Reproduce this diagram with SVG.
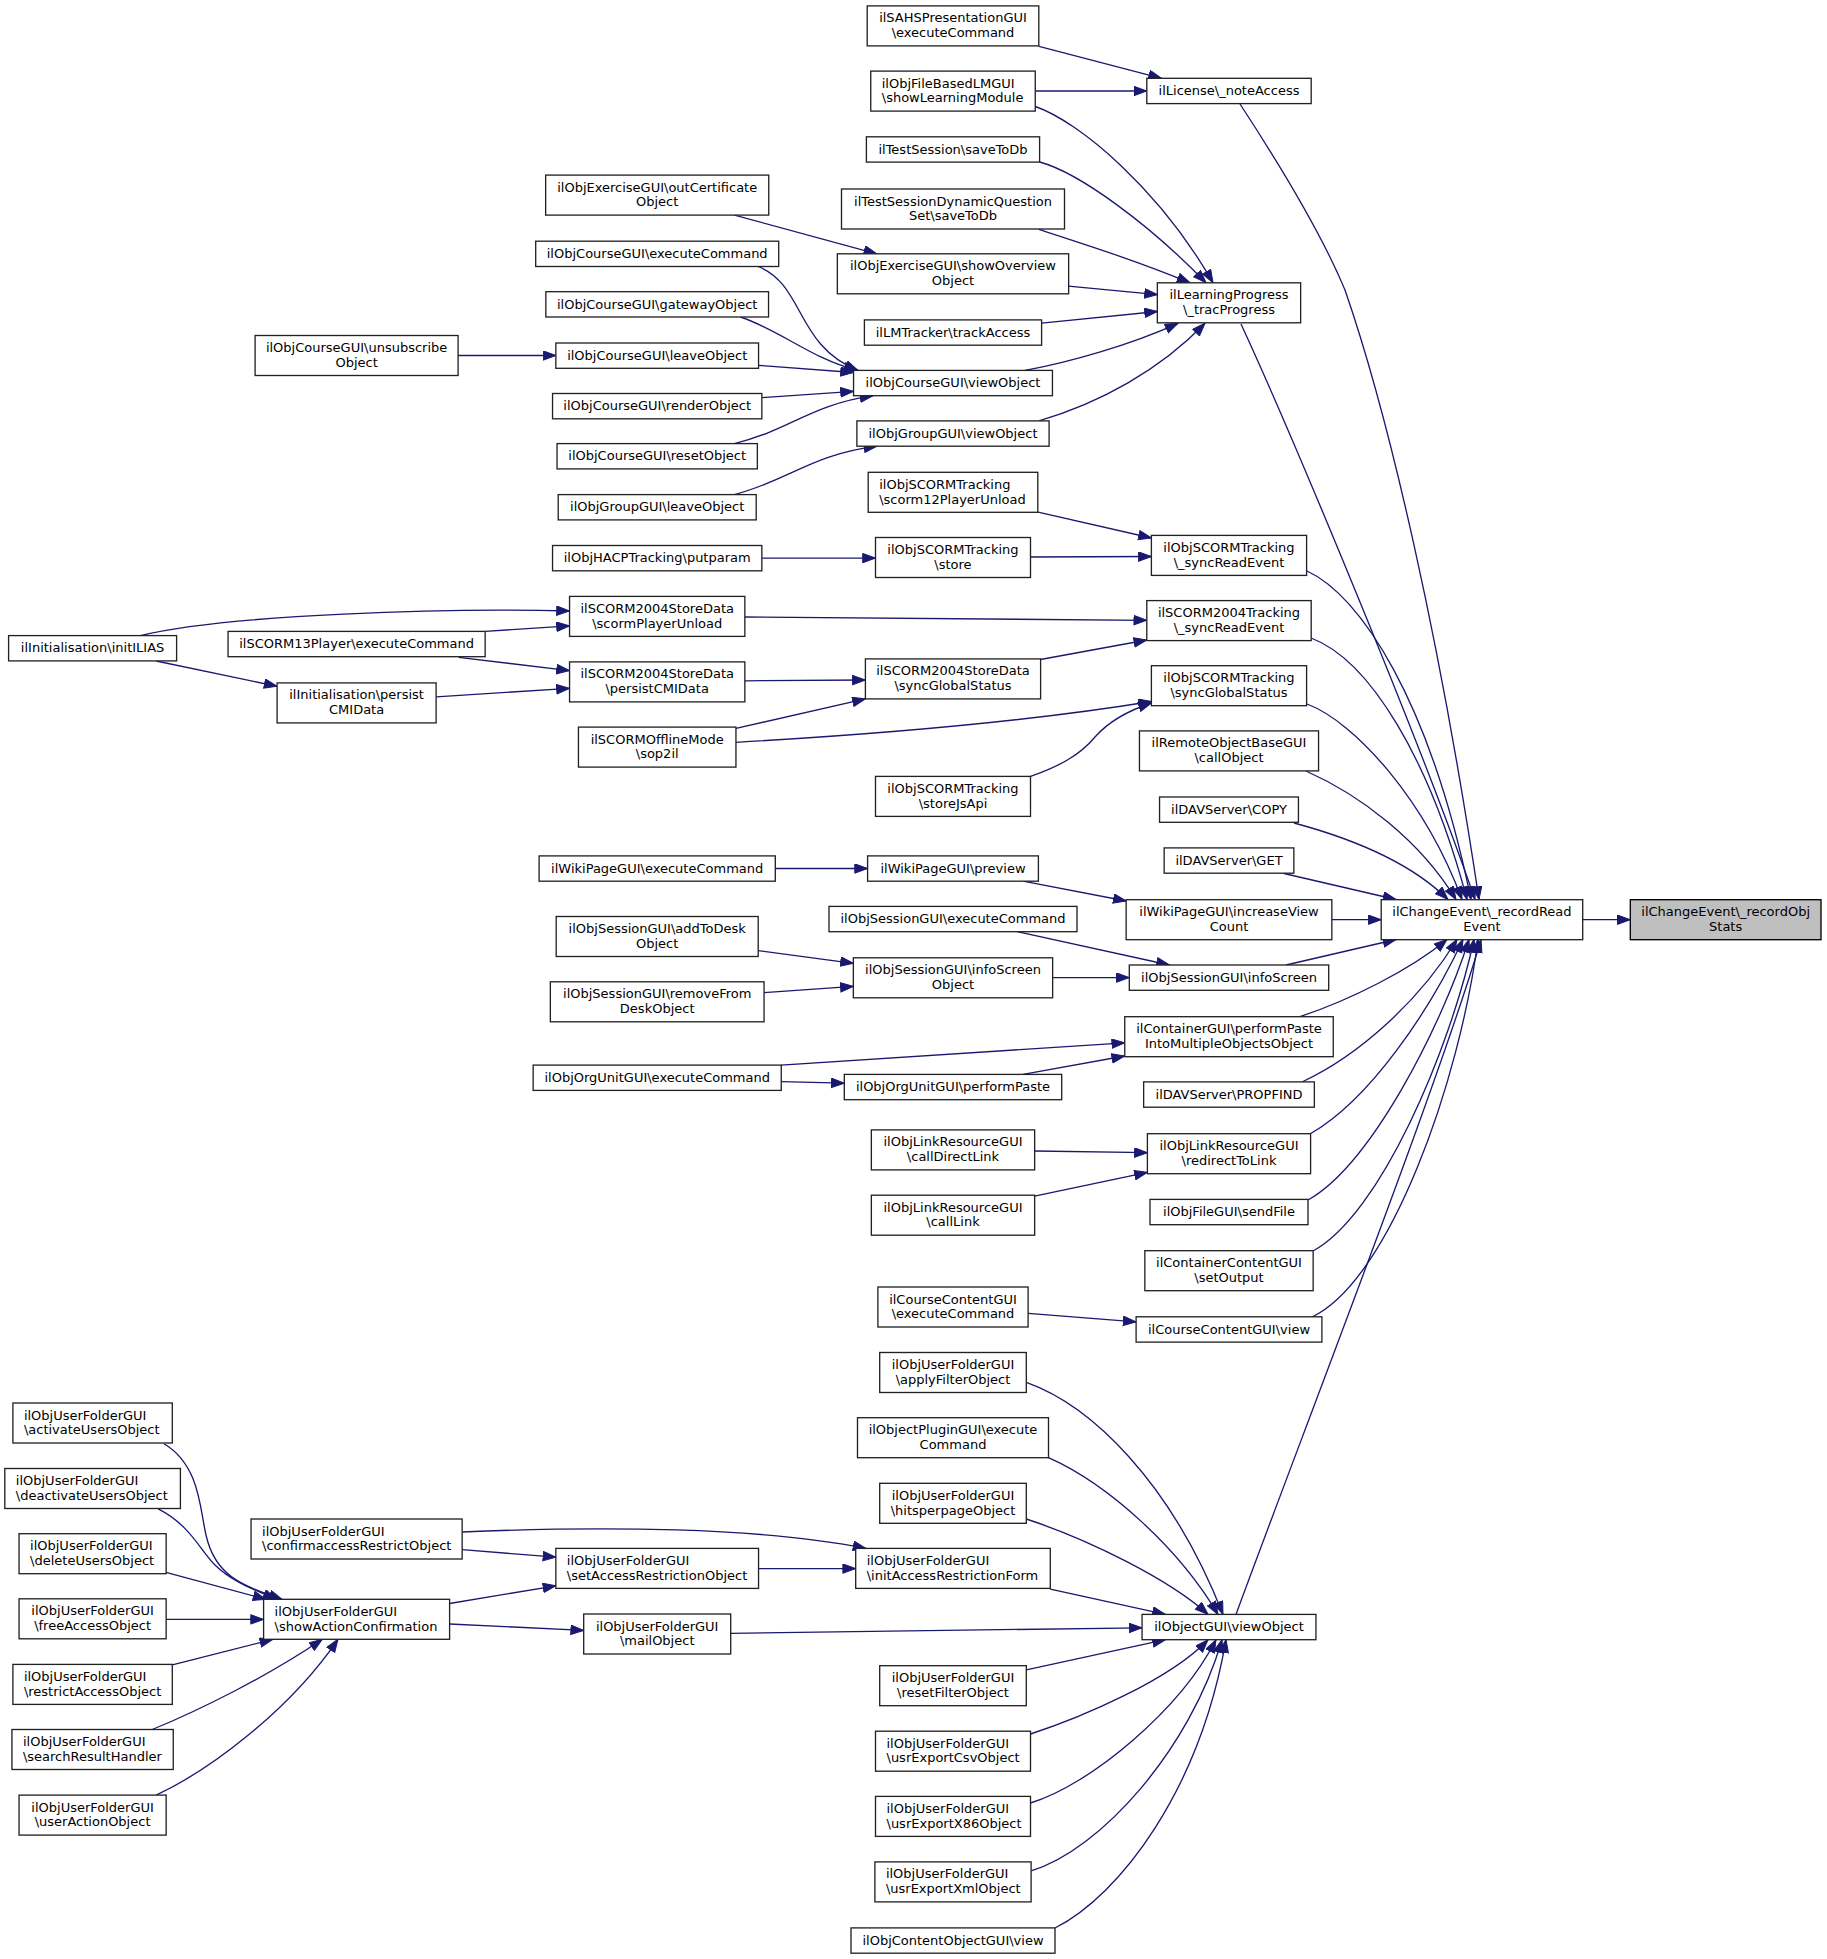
<svg xmlns="http://www.w3.org/2000/svg" width="1827" height="1959" viewBox="0 0 1827 1959">
<style>
.n rect{fill:#ffffff;stroke:#222222;stroke-width:1.33}
.f rect{fill:#bfbfbf;stroke:#000000;stroke-width:1.33}
text{font-family:"DejaVu Sans","Liberation Sans",sans-serif;font-size:13px;fill:#000000}
.c{text-anchor:middle}
.l{text-anchor:start}
#edges path{fill:none;stroke:#191970;stroke-width:1.33;marker-end:url(#ah)}
</style>
<defs>
<marker id="ah" markerUnits="userSpaceOnUse" markerWidth="15" markerHeight="11" viewBox="0 0 15 11" refX="13.3" refY="5" orient="auto"><path d="M0.5,0.3 L13.3,5 L0.5,9.7 z" fill="#191970" stroke="#191970" stroke-width="1"/></marker>
</defs>
<rect x="0" y="0" width="1827" height="1959" fill="#ffffff"/>
<g id="edges">
<path d="M1582.7,919.7 L1630.3,919.7"/>
<path d="M1240,104 C1280,165 1320,230 1345,290 C1390,420 1440,640 1479,899.5"/>
<path d="M1241,324 C1290,430 1420,740 1475,899.5"/>
<path d="M1307,571 C1360,595 1430,700 1471,899.5"/>
<path d="M1311,638 C1370,660 1430,760 1467,899.5"/>
<path d="M1307,704 C1355,722 1425,800 1462,899.5"/>
<path d="M1306,771 C1360,795 1420,840 1456,899.5"/>
<path d="M1294,823 C1350,838 1410,862 1448,899.5"/>
<path d="M1284,873.5 L1396,899.5"/>
<path d="M1332,919.7 L1381.2,919.7"/>
<path d="M1286,965 L1396,939.5"/>
<path d="M1300,1016.7 C1350,1000 1410,970 1447,939.5"/>
<path d="M1302,1082 C1360,1055 1420,1000 1457,939.5"/>
<path d="M1310,1134 C1370,1100 1430,1010 1463,939.5"/>
<path d="M1308,1200 C1370,1165 1440,1030 1469,939.5"/>
<path d="M1313,1251 C1380,1215 1450,1050 1474,939.5"/>
<path d="M1312,1317 C1390,1280 1460,1080 1478,939.5"/>
<path d="M1236,1614.4 C1300,1440 1440,1080 1481,939.5"/>
<path d="M1039,46.3 L1161.5,78.3"/>
<path d="M1035.3,91 L1146.8,91"/>
<path d="M1035.3,106.5 C1080,122 1160,190 1213,282.8"/>
<path d="M1039.7,162 C1080,173 1150,225 1206,282.8"/>
<path d="M1038.9,229.4 C1090,246 1140,262 1190,282.8"/>
<path d="M1068.5,286.2 L1157.5,294.6"/>
<path d="M1041.7,323.2 L1157.5,311.5"/>
<path d="M1025,370.4 C1070,362 1130,345 1178,323.3"/>
<path d="M1038.9,420.9 C1100,403 1160,370 1205,323.3"/>
<path d="M734.4,215.1 L876.8,253.8"/>
<path d="M758,266.4 C805,285 795,345 858,370.4"/>
<path d="M740.4,317 C780,330 810,358 857,370.4"/>
<path d="M758.6,365.3 L853.5,372.5"/>
<path d="M762.1,397.7 L853.5,391.4"/>
<path d="M734.4,443.6 C790,430 810,405 873,395.7"/>
<path d="M734.4,494.6 C790,480 810,455 877,446.2"/>
<path d="M457.9,355.5 L555.9,355.5"/>
<path d="M762.1,558.1 L875.5,558.1"/>
<path d="M1038.1,512.2 L1151.4,538"/>
<path d="M1030.6,557 L1151.4,556.5"/>
<path d="M744.7,617 L1146.8,620.3"/>
<path d="M1040.5,659.5 L1146.8,640"/>
<path d="M744.7,680.8 L865.4,680"/>
<path d="M736,728.4 L865.4,698.9"/>
<path d="M736,742.3 C900,733 1050,718 1151.4,701.5"/>
<path d="M1030.6,776.4 C1060,766 1080,755 1095,737 C1110,720 1130,710 1151.4,703"/>
<path d="M775.2,868.5 L867.6,868.5"/>
<path d="M1023,881.2 L1126.2,901"/>
<path d="M1017.2,931.7 L1169.4,965"/>
<path d="M1052.7,977.6 L1129.3,977.6"/>
<path d="M758.2,950.6 L853.4,963.3"/>
<path d="M764.1,992.7 L853.4,986.4"/>
<path d="M781.1,1065.1 L1124.7,1042.8"/>
<path d="M781.1,1081.6 L844.3,1083.2"/>
<path d="M1023,1074.4 L1124.7,1056"/>
<path d="M1034.6,1151 L1147.4,1152.7"/>
<path d="M1034.6,1196.2 L1147.4,1172.4"/>
<path d="M1028.1,1313.4 L1136.1,1321.9"/>
<path d="M1026.3,1382.4 C1090,1405 1170,1480 1223,1614.4"/>
<path d="M1048.5,1457.6 C1110,1485 1180,1550 1218,1614.4"/>
<path d="M1026.3,1519 C1090,1540 1170,1580 1208,1614.4"/>
<path d="M1050.3,1589.2 L1165.4,1614.4"/>
<path d="M730.7,1633.3 L1142,1627.8"/>
<path d="M1026.3,1669.9 L1165.4,1639.7"/>
<path d="M1030.5,1734 C1080,1718 1170,1680 1208,1639.7"/>
<path d="M1030.5,1803 C1090,1785 1180,1710 1216,1639.7"/>
<path d="M1031.1,1870.8 C1100,1850 1190,1750 1222,1639.7"/>
<path d="M1055,1928 C1120,1895 1200,1790 1226,1639.7"/>
<path d="M462.2,1532 C600,1526 760,1527 866,1548.4"/>
<path d="M462.2,1549.7 L555.9,1557.2"/>
<path d="M758.6,1568.6 L855.7,1568.6"/>
<path d="M449.6,1603.5 L555.9,1585.8"/>
<path d="M449.6,1624 L583.7,1630.4"/>
<path d="M164,1443.7 C200,1465 200,1510 206,1535 C215,1575 240,1585 282,1599.3"/>
<path d="M158.2,1508.9 C190,1525 200,1550 215,1565 C230,1580 250,1588 276,1599.3"/>
<path d="M166,1572.4 L266,1599.3"/>
<path d="M166.1,1619.4 L263.6,1619.4"/>
<path d="M172.4,1664.8 L272.8,1639.3"/>
<path d="M152.2,1729.5 C200,1710 270,1675 322.3,1639.3"/>
<path d="M156.2,1795.1 C210,1770 290,1710 338,1639.3"/>
<path d="M140.4,635.6 C230,614 450,608 569.5,611"/>
<path d="M485.2,631.4 L569.5,625.9"/>
<path d="M458.7,657.3 L569.5,670.7"/>
<path d="M156.2,661 L277.1,686.3"/>
<path d="M436.1,696.8 L569.5,688.4"/>
</g>
<g id="n_recordObjStats" class="f"><rect x="1630.3" y="899.7" width="190.7" height="40"/><text class="c" x="1725.65" y="916.2">ilChangeEvent\_recordObj</text><text class="c" x="1725.65" y="930.9">Stats</text></g>
<g id="n_recordReadEvent" class="n"><rect x="1381.2" y="899.7" width="201.5" height="40"/><text class="c" x="1481.95" y="916.2">ilChangeEvent\_recordRead</text><text class="c" x="1481.95" y="930.9">Event</text></g>
<g id="n_noteAccess" class="n"><rect x="1146.8" y="78.3" width="164.4" height="25.3"/><text class="c" x="1229" y="95.1">ilLicense\_noteAccess</text></g>
<g id="n_tracProgress" class="n"><rect x="1157.35" y="282.8" width="143.3" height="40"/><text class="c" x="1229" y="299.3">ilLearningProgress</text><text class="c" x="1229" y="314">\_tracProgress</text></g>
<g id="n_scormSyncReadEvent" class="n"><rect x="1151.4" y="535.4" width="155.2" height="40"/><text class="c" x="1229" y="551.9">ilObjSCORMTracking</text><text class="c" x="1229" y="566.6">\_syncReadEvent</text></g>
<g id="n_scorm2004SyncReadEvent" class="n"><rect x="1146.8" y="600.6" width="164.4" height="40"/><text class="c" x="1229" y="617.1">ilSCORM2004Tracking</text><text class="c" x="1229" y="631.8">\_syncReadEvent</text></g>
<g id="n_scormSyncGlobalStatus" class="n"><rect x="1151.4" y="665.7" width="155.2" height="40"/><text class="c" x="1229" y="682.2">ilObjSCORMTracking</text><text class="c" x="1229" y="696.9">\syncGlobalStatus</text></g>
<g id="n_remoteCallObject" class="n"><rect x="1139.45" y="730.9" width="179.1" height="40"/><text class="c" x="1229" y="747.4">ilRemoteObjectBaseGUI</text><text class="c" x="1229" y="762.1">\callObject</text></g>
<g id="n_davCopy" class="n"><rect x="1159.55" y="797" width="138.9" height="25.3"/><text class="c" x="1229" y="813.8">ilDAVServer\COPY</text></g>
<g id="n_davGet" class="n"><rect x="1164.15" y="847.9" width="129.7" height="25.3"/><text class="c" x="1229" y="864.7">ilDAVServer\GET</text></g>
<g id="n_increaseViewCount" class="n"><rect x="1126.15" y="899.7" width="205.7" height="40"/><text class="c" x="1229" y="916.2">ilWikiPageGUI\increaseView</text><text class="c" x="1229" y="930.9">Count</text></g>
<g id="n_sessionInfoScreen" class="n"><rect x="1129.3" y="965" width="199.4" height="25.3"/><text class="c" x="1229" y="981.8">ilObjSessionGUI\infoScreen</text></g>
<g id="n_containerPerformPaste" class="n"><rect x="1124.75" y="1016.7" width="208.5" height="40"/><text class="c" x="1229" y="1033.2">ilContainerGUI\performPaste</text><text class="c" x="1229" y="1047.9">IntoMultipleObjectsObject</text></g>
<g id="n_davPropfind" class="n"><rect x="1143.65" y="1081.9" width="170.7" height="25.3"/><text class="c" x="1229" y="1098.7">ilDAVServer\PROPFIND</text></g>
<g id="n_redirectToLink" class="n"><rect x="1147.4" y="1133.7" width="163.2" height="40"/><text class="c" x="1229" y="1150.2">ilObjLinkResourceGUI</text><text class="c" x="1229" y="1164.9">\redirectToLink</text></g>
<g id="n_sendFile" class="n"><rect x="1150" y="1199.4" width="158" height="25.3"/><text class="c" x="1229" y="1216.2">ilObjFileGUI\sendFile</text></g>
<g id="n_setOutput" class="n"><rect x="1144.85" y="1250.7" width="168.3" height="40"/><text class="c" x="1229" y="1267.2">ilContainerContentGUI</text><text class="c" x="1229" y="1281.9">\setOutput</text></g>
<g id="n_courseContentView" class="n"><rect x="1136.1" y="1316.8" width="185.8" height="25.3"/><text class="c" x="1229" y="1333.6">ilCourseContentGUI\view</text></g>
<g id="n_objectViewObject" class="n"><rect x="1142.05" y="1614.4" width="173.9" height="25.3"/><text class="c" x="1229" y="1631.2">ilObjectGUI\viewObject</text></g>
<g id="n_sahsExecute" class="n"><rect x="867.2" y="5.9" width="171.6" height="40"/><text class="c" x="953" y="22.4">ilSAHSPresentationGUI</text><text class="c" x="953" y="37.1">\executeCommand</text></g>
<g id="n_showLearningModule" class="n"><rect x="870.75" y="71.1" width="164.5" height="40"/><text class="l" x="881.75" y="87.6">ilObjFileBasedLMGUI</text><text class="l" x="881.75" y="102.3">\showLearningModule</text></g>
<g id="n_testSessionSave" class="n"><rect x="866.4" y="136.8" width="173.2" height="25.3"/><text class="c" x="953" y="153.6">ilTestSession\saveToDb</text></g>
<g id="n_testSessionDynSave" class="n"><rect x="841.5" y="189" width="223" height="40"/><text class="c" x="953" y="205.5">ilTestSessionDynamicQuestion</text><text class="c" x="953" y="220.2">Set\saveToDb</text></g>
<g id="n_exerciseShowOverview" class="n"><rect x="837.35" y="253.8" width="231.3" height="40"/><text class="c" x="953" y="270.3">ilObjExerciseGUI\showOverview</text><text class="c" x="953" y="285">Object</text></g>
<g id="n_lmTrackAccess" class="n"><rect x="864.4" y="319.9" width="177.2" height="25.3"/><text class="c" x="953" y="336.7">ilLMTracker\trackAccess</text></g>
<g id="n_courseViewObject" class="n"><rect x="853.55" y="370.4" width="198.9" height="25.3"/><text class="c" x="953" y="387.2">ilObjCourseGUI\viewObject</text></g>
<g id="n_groupViewObject" class="n"><rect x="856.9" y="420.9" width="192.2" height="25.3"/><text class="c" x="953" y="437.7">ilObjGroupGUI\viewObject</text></g>
<g id="n_scorm12PlayerUnload" class="n"><rect x="868.2" y="472.3" width="169.6" height="40"/><text class="l" x="879.2" y="488.8">ilObjSCORMTracking</text><text class="l" x="879.2" y="503.5">\scorm12PlayerUnload</text></g>
<g id="n_scormStore" class="n"><rect x="875.5" y="537.5" width="155" height="40"/><text class="c" x="953" y="554">ilObjSCORMTracking</text><text class="c" x="953" y="568.7">\store</text></g>
<g id="n_storeDataSyncGlobal" class="n"><rect x="865.4" y="658.9" width="175.2" height="40"/><text class="c" x="953" y="675.4">ilSCORM2004StoreData</text><text class="c" x="953" y="690.1">\syncGlobalStatus</text></g>
<g id="n_storeJsApi" class="n"><rect x="875.5" y="776.4" width="155" height="40"/><text class="c" x="953" y="792.9">ilObjSCORMTracking</text><text class="c" x="953" y="807.6">\storeJsApi</text></g>
<g id="n_wikiPreview" class="n"><rect x="867.6" y="855.9" width="170.8" height="25.3"/><text class="c" x="953" y="872.7">ilWikiPageGUI\preview</text></g>
<g id="n_sessionExecute" class="n"><rect x="829" y="906.4" width="248" height="25.3"/><text class="c" x="953" y="923.2">ilObjSessionGUI\executeCommand</text></g>
<g id="n_sessionInfoScreenObject" class="n"><rect x="853.35" y="957.8" width="199.3" height="40"/><text class="c" x="953" y="974.3">ilObjSessionGUI\infoScreen</text><text class="c" x="953" y="989">Object</text></g>
<g id="n_orgUnitPerformPaste" class="n"><rect x="844.3" y="1074.4" width="217.4" height="25.3"/><text class="c" x="953" y="1091.2">ilObjOrgUnitGUI\performPaste</text></g>
<g id="n_callDirectLink" class="n"><rect x="871.35" y="1129.9" width="163.3" height="40"/><text class="c" x="953" y="1146.4">ilObjLinkResourceGUI</text><text class="c" x="953" y="1161.1">\callDirectLink</text></g>
<g id="n_callLink" class="n"><rect x="871.35" y="1195.2" width="163.3" height="40"/><text class="c" x="953" y="1211.7">ilObjLinkResourceGUI</text><text class="c" x="953" y="1226.4">\callLink</text></g>
<g id="n_courseContentExecute" class="n"><rect x="877.9" y="1287" width="150.2" height="40"/><text class="c" x="953" y="1303.5">ilCourseContentGUI</text><text class="c" x="953" y="1318.2">\executeCommand</text></g>
<g id="n_applyFilter" class="n"><rect x="879.7" y="1352.5" width="146.6" height="40"/><text class="c" x="953" y="1369">ilObjUserFolderGUI</text><text class="c" x="953" y="1383.7">\applyFilterObject</text></g>
<g id="n_pluginExecute" class="n"><rect x="857.5" y="1417.7" width="191" height="40"/><text class="c" x="953" y="1434.2">ilObjectPluginGUI\execute</text><text class="c" x="953" y="1448.9">Command</text></g>
<g id="n_hitsperpage" class="n"><rect x="879.7" y="1483.3" width="146.6" height="40"/><text class="c" x="953" y="1499.8">ilObjUserFolderGUI</text><text class="c" x="953" y="1514.5">\hitsperpageObject</text></g>
<g id="n_initAccessRestrictionForm" class="n"><rect x="855.7" y="1548.4" width="194.6" height="40"/><text class="l" x="866.7" y="1564.9">ilObjUserFolderGUI</text><text class="l" x="866.7" y="1579.6">\initAccessRestrictionForm</text></g>
<g id="n_resetFilter" class="n"><rect x="879.7" y="1665.7" width="146.6" height="40"/><text class="c" x="953" y="1682.2">ilObjUserFolderGUI</text><text class="c" x="953" y="1696.9">\resetFilterObject</text></g>
<g id="n_usrExportCsv" class="n"><rect x="875.5" y="1731.2" width="155" height="40"/><text class="l" x="886.5" y="1747.7">ilObjUserFolderGUI</text><text class="l" x="886.5" y="1762.4">\usrExportCsvObject</text></g>
<g id="n_usrExportX86" class="n"><rect x="875.5" y="1796.4" width="155" height="40"/><text class="l" x="886.5" y="1812.9">ilObjUserFolderGUI</text><text class="l" x="886.5" y="1827.6">\usrExportX86Object</text></g>
<g id="n_usrExportXml" class="n"><rect x="874.9" y="1861.9" width="156.2" height="40"/><text class="l" x="885.9" y="1878.4">ilObjUserFolderGUI</text><text class="l" x="885.9" y="1893.1">\usrExportXmlObject</text></g>
<g id="n_contentObjectView" class="n"><rect x="851" y="1927.9" width="204" height="25.3"/><text class="c" x="953" y="1944.7">ilObjContentObjectGUI\view</text></g>
<g id="n_outCertificate" class="n"><rect x="545.65" y="175.1" width="223.1" height="40"/><text class="c" x="657.2" y="191.6">ilObjExerciseGUI\outCertificate</text><text class="c" x="657.2" y="206.3">Object</text></g>
<g id="n_courseExecute" class="n"><rect x="535.7" y="241.2" width="243" height="25.3"/><text class="c" x="657.2" y="258">ilObjCourseGUI\executeCommand</text></g>
<g id="n_courseGateway" class="n"><rect x="545.85" y="291.7" width="222.7" height="25.3"/><text class="c" x="657.2" y="308.5">ilObjCourseGUI\gatewayObject</text></g>
<g id="n_courseLeave" class="n"><rect x="555.85" y="343" width="202.7" height="25.3"/><text class="c" x="657.2" y="359.8">ilObjCourseGUI\leaveObject</text></g>
<g id="n_courseRender" class="n"><rect x="552.55" y="393.5" width="209.3" height="25.3"/><text class="c" x="657.2" y="410.3">ilObjCourseGUI\renderObject</text></g>
<g id="n_courseReset" class="n"><rect x="557.05" y="443.6" width="200.3" height="25.3"/><text class="c" x="657.2" y="460.4">ilObjCourseGUI\resetObject</text></g>
<g id="n_groupLeave" class="n"><rect x="558.2" y="494.6" width="198" height="25.3"/><text class="c" x="657.2" y="511.4">ilObjGroupGUI\leaveObject</text></g>
<g id="n_hacpPutparam" class="n"><rect x="552.55" y="545.5" width="209.3" height="25.3"/><text class="c" x="657.2" y="562.3">ilObjHACPTracking\putparam</text></g>
<g id="n_scormPlayerUnload" class="n"><rect x="569.55" y="596.4" width="175.3" height="40"/><text class="c" x="657.2" y="612.9">ilSCORM2004StoreData</text><text class="c" x="657.2" y="627.6">\scormPlayerUnload</text></g>
<g id="n_storeDataPersist" class="n"><rect x="569.55" y="661.9" width="175.3" height="40"/><text class="c" x="657.2" y="678.4">ilSCORM2004StoreData</text><text class="c" x="657.2" y="693.1">\persistCMIData</text></g>
<g id="n_sop2il" class="n"><rect x="578.45" y="727.1" width="157.5" height="40"/><text class="c" x="657.2" y="743.6">ilSCORMOfflineMode</text><text class="c" x="657.2" y="758.3">\sop2il</text></g>
<g id="n_wikiExecute" class="n"><rect x="539.1" y="855.9" width="236.2" height="25.3"/><text class="c" x="657.2" y="872.7">ilWikiPageGUI\executeCommand</text></g>
<g id="n_addToDesk" class="n"><rect x="556.2" y="916.5" width="202" height="40"/><text class="c" x="657.2" y="933">ilObjSessionGUI\addToDesk</text><text class="c" x="657.2" y="947.7">Object</text></g>
<g id="n_removeFromDesk" class="n"><rect x="550.35" y="981.8" width="213.7" height="40"/><text class="c" x="657.2" y="998.3">ilObjSessionGUI\removeFrom</text><text class="c" x="657.2" y="1013">DeskObject</text></g>
<g id="n_orgUnitExecute" class="n"><rect x="533.15" y="1065.1" width="248.1" height="25.3"/><text class="c" x="657.2" y="1081.9">ilObjOrgUnitGUI\executeCommand</text></g>
<g id="n_setAccessRestriction" class="n"><rect x="555.85" y="1548.4" width="202.7" height="40"/><text class="l" x="566.85" y="1564.9">ilObjUserFolderGUI</text><text class="l" x="566.85" y="1579.6">\setAccessRestrictionObject</text></g>
<g id="n_mailObject" class="n"><rect x="583.7" y="1614" width="147" height="40"/><text class="c" x="657.2" y="1630.5">ilObjUserFolderGUI</text><text class="c" x="657.2" y="1645.2">\mailObject</text></g>
<g id="n_unsubscribe" class="n"><rect x="255.1" y="335.5" width="203" height="40"/><text class="c" x="356.6" y="352">ilObjCourseGUI\unsubscribe</text><text class="c" x="356.6" y="366.7">Object</text></g>
<g id="n_scorm13Execute" class="n"><rect x="228.05" y="631.4" width="257.1" height="25.3"/><text class="c" x="356.6" y="648.2">ilSCORM13Player\executeCommand</text></g>
<g id="n_initPersist" class="n"><rect x="277.1" y="682.9" width="159" height="40"/><text class="c" x="356.6" y="699.4">ilInitialisation\persist</text><text class="c" x="356.6" y="714.1">CMIData</text></g>
<g id="n_confirmAccess" class="n"><rect x="251.05" y="1519" width="211.1" height="40"/><text class="l" x="262.05" y="1535.5">ilObjUserFolderGUI</text><text class="l" x="262.05" y="1550.2">\confirmaccessRestrictObject</text></g>
<g id="n_showActionConfirmation" class="n"><rect x="263.6" y="1599.3" width="186" height="40"/><text class="l" x="274.6" y="1615.8">ilObjUserFolderGUI</text><text class="l" x="274.6" y="1630.5">\showActionConfirmation</text></g>
<g id="n_initILIAS" class="n"><rect x="8.6" y="635.6" width="168" height="25.3"/><text class="c" x="92.6" y="652.4">ilInitialisation\initILIAS</text></g>
<g id="n_activateUsers" class="n"><rect x="12.9" y="1403" width="159.4" height="40"/><text class="l" x="23.9" y="1419.5">ilObjUserFolderGUI</text><text class="l" x="23.9" y="1434.2">\activateUsersObject</text></g>
<g id="n_deactivateUsers" class="n"><rect x="4.8" y="1468.5" width="175.6" height="40"/><text class="l" x="15.8" y="1485">ilObjUserFolderGUI</text><text class="l" x="15.8" y="1499.7">\deactivateUsersObject</text></g>
<g id="n_deleteUsers" class="n"><rect x="19.05" y="1533.7" width="147.1" height="40"/><text class="l" x="30.05" y="1550.2">ilObjUserFolderGUI</text><text class="l" x="30.05" y="1564.9">\deleteUsersObject</text></g>
<g id="n_freeAccess" class="n"><rect x="19.05" y="1598.8" width="147.1" height="40"/><text class="c" x="92.6" y="1615.3">ilObjUserFolderGUI</text><text class="c" x="92.6" y="1630">\freeAccessObject</text></g>
<g id="n_restrictAccess" class="n"><rect x="12.9" y="1664.4" width="159.4" height="40"/><text class="l" x="23.9" y="1680.9">ilObjUserFolderGUI</text><text class="l" x="23.9" y="1695.6">\restrictAccessObject</text></g>
<g id="n_searchResultHandler" class="n"><rect x="11.95" y="1729.5" width="161.3" height="40"/><text class="l" x="22.95" y="1746">ilObjUserFolderGUI</text><text class="l" x="22.95" y="1760.7">\searchResultHandler</text></g>
<g id="n_userAction" class="n"><rect x="19.05" y="1795.1" width="147.1" height="40"/><text class="c" x="92.6" y="1811.6">ilObjUserFolderGUI</text><text class="c" x="92.6" y="1826.3">\userActionObject</text></g>
</svg>
